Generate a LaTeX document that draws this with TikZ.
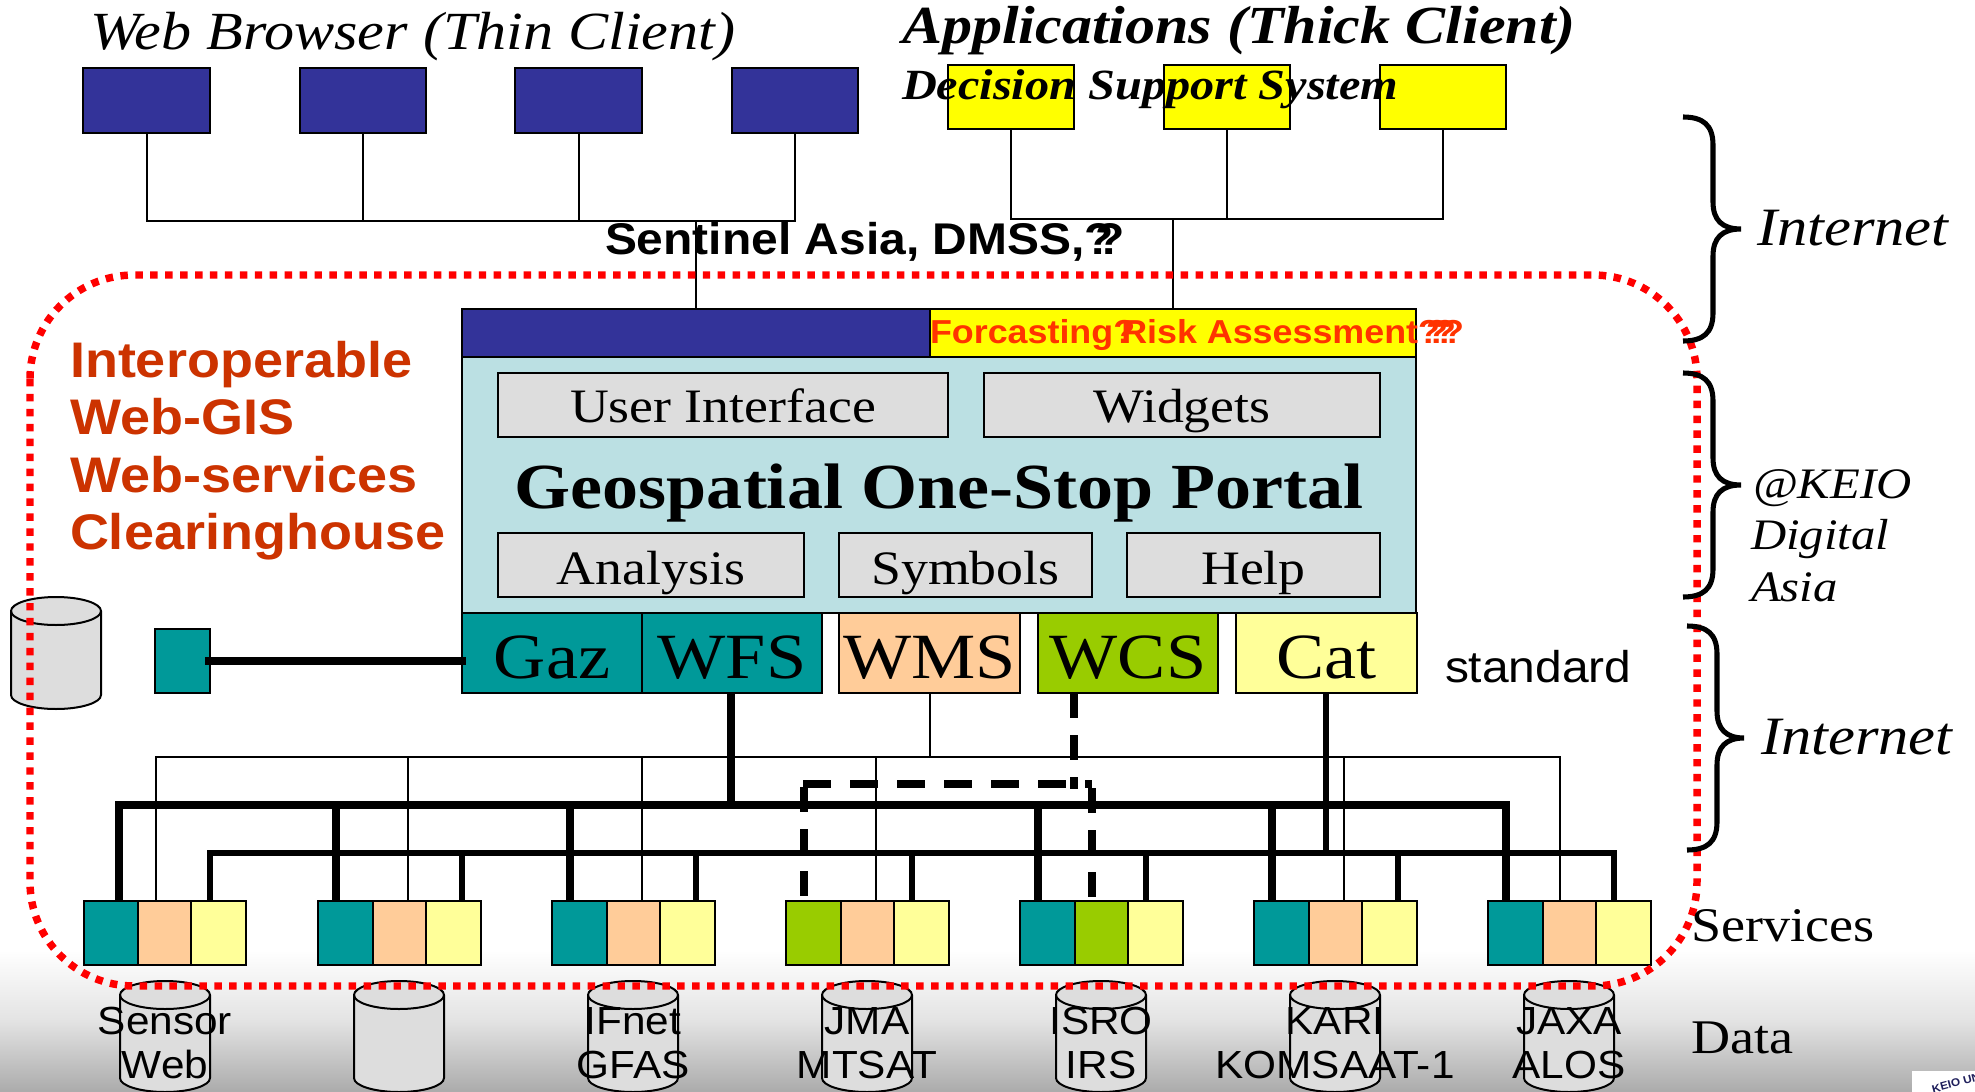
\documentclass[tikz,border=0pt]{standalone}
\usepackage{fontspec}
\usetikzlibrary{calc}
\newfontfamily\ser[FakeStretch=1.12]{Liberation Serif}
\newfontfamily\ari[FakeStretch=1.08]{Liberation Sans}
\newcommand{\pxf}[1]{\fontsize{\the\dimexpr #1pt*3/4\relax}{\the\dimexpr #1pt*3/4\relax}\selectfont}
\newcommand{\ovq}{\kern-.42em}
\definecolor{cblue}{HTML}{333399}
\definecolor{cyell}{HTML}{FFFF00}
\definecolor{cred}{HTML}{FF0000}
\definecolor{cteal}{HTML}{009999}
\definecolor{cpeach}{HTML}{FFCC99}
\definecolor{cpale}{HTML}{FFFF99}
\definecolor{cgreen}{HTML}{99CC00}
\definecolor{cportal}{HTML}{BBE0E3}
\definecolor{cgrey}{HTML}{DDDDDD}
\definecolor{cbrick}{HTML}{CC3300}
\definecolor{cflame}{HTML}{FF3300}
\tikzset{
  boxed/.style={draw=black,line width=1.5pt,inner sep=0pt,outer sep=0pt},
  wire/.style={draw=black,line width=1.5pt},
  busA/.style={draw=black,line width=5.8pt},
  busB/.style={draw=black,line width=4.5pt},
  dropA/.style={draw=black,line width=6.3pt},
  dropB/.style={draw=black,line width=5pt},
  dashV/.style={draw=black,line width=5.6pt,dash pattern=on 18.75pt off 12.75pt},
  dashH/.style={draw=black,line width=5.3pt,dash pattern=on 21pt off 14.25pt},
  brace/.style={draw=black,line width=3.8pt},
  redline/.style={draw=cred,line width=5.6pt,dash pattern=on 5.6pt off 5.6pt,rounded corners=78pt},
  lab/.style={anchor=base west,inner sep=0pt,outer sep=0pt},
  clab/.style={anchor=base,inner sep=0pt,outer sep=0pt},
}
\newcommand{\bx}[7][]{\node[boxed,fill=#7,minimum width={(#5-#3)*0.75pt},minimum height={(#6-#4)*0.75pt},#1] (#2) at ({(#3+#5)/2},{(#4+#6)/2}) {};}
\newcommand{\cyl}[3]{%
  \draw[fill=cgrey,line width=1.5pt] ({#1-45},{#2+14}) -- ({#1-45},{#3-14}) arc[start angle=180,end angle=360,x radius=33.75pt,y radius=10.5pt] -- ({#1+45},{#2+14}) arc[start angle=0,end angle=180,x radius=33.75pt,y radius=10.5pt] -- cycle;
  \draw[line width=1.5pt] ({#1-45},{#2+14}) arc[start angle=180,end angle=360,x radius=33.75pt,y radius=10.5pt];}
\newcommand{\svc}[7]{%
  \bx{#1a}{#2}{901}{#3}{965}{#5}
  \bx{#1b}{#3}{901}{#4}{965}{#6}
  \bx{#1c}{#4}{901}{#4+54.5}{965}{#7}}
\begin{document}
\begin{tikzpicture}[x=0.75pt,y=-0.75pt]
\useasboundingbox (0,0) rectangle (1975,1092);
\fill[white] (0,0) rectangle (1975,1092);
\shade[top color=white,bottom color=black!33,middle color=black!11] (0,950) rectangle (1975,1092);

% clients
\bx{bA}{83}{68}{210}{133}{cblue}
\bx{bB}{300}{68}{426}{133}{cblue}
\bx{bC}{515}{68}{642}{133}{cblue}
\bx{bD}{732}{68}{858}{133}{cblue}
\bx{yA}{948}{65}{1074}{129}{cyell}
\bx{yB}{1164}{65}{1290}{129}{cyell}
\bx{yC}{1380}{65}{1506}{129}{cyell}

% portal
\bx{portal}{462}{357}{1416}{613}{cportal}
\bx{barL}{462}{309}{930}{357}{cblue}
\bx{barR}{930}{309}{1416}{357}{cyell}
\bx{ui}{498}{373}{948}{437}{cgrey}
\bx{wid}{984}{373}{1380}{437}{cgrey}
\bx{ana}{498}{533}{804}{597}{cgrey}
\bx{sym}{839}{533}{1092}{597}{cgrey}
\bx{hlp}{1127}{533}{1380}{597}{cgrey}
\bx{gaz}{462}{613}{642}{693}{cteal}
\bx{wfs}{642}{613}{822}{693}{cteal}
\bx{wms}{839}{613}{1020}{693}{cpeach}
\bx{wcs}{1038}{613}{1218}{693}{cgreen}
\bx{cat}{1236}{613}{1417}{693}{cpale}
\bx{tiny}{155}{629}{210}{693}{cteal}

% client wiring
\coordinate (lb) at (696,221);
\coordinate (rb) at (1173,219);
\draw[wire] (bA.south) |- (lb);
\draw[wire] (bB.south) |- (lb);
\draw[wire] (bC.south) |- (lb);
\draw[wire] (bD.south) |- (lb);
\draw[wire] (lb) -- (barL.north);
\draw[wire] (yA.south) |- (rb);
\draw[wire] (yB.south) |- (rb);
\draw[wire] (yC.south) |- (rb);
\draw[wire] (rb) -- (barR.north);

% service boxes
\svc{sA}{83.5}{138}{191}{cteal}{cpeach}{cpale}
\svc{sB}{318}{372.5}{426}{cteal}{cpeach}{cpale}
\svc{sC}{552}{606.5}{660}{cteal}{cpeach}{cpale}
\svc{sD}{786}{840.5}{894}{cgreen}{cpeach}{cpale}
\svc{sE}{1020}{1074.5}{1128}{cteal}{cgreen}{cpale}
\svc{sF}{1254}{1308.5}{1362}{cteal}{cpeach}{cpale}
\svc{sG}{1488}{1542.5}{1596}{cteal}{cpeach}{cpale}

% thin WMS bus
\coordinate (tb) at (wms.south |- 0,757);
\draw[wire] (wms.south) -- (tb);
\foreach \n/\x in {A/156,B/408,C/642,D/876,F/1344,G/1560}{
  \coordinate (t\n) at (\x,901);
  \draw[wire] (t\n) |- (tb);
}
% WFS bus
\coordinate (ua) at (731,805);
\coordinate (ue) at (115,805);
\coordinate (uf) at (1510,805);
\draw[busA] (ue) -- (uf);
\draw[dropA] (wfs.south -| ua) -- ($(ua)+(0,3)$);
\foreach \n/\x in {A/119,B/336,C/570,E/1038,F/1272,G/1506}{
  \coordinate (u\n) at (\x,901);
  \draw[dropA] (u\n) -- (u\n |- ua);
}
% Cat bus
\coordinate (lbus) at (1326,853);
\coordinate (le) at (207,853);
\coordinate (lf) at (1617,853);
\draw[busB] (le) -- (lf);
\draw[dropB] (cat.south -| lbus) -- ($(lbus)+(0,3)$);
\foreach \n/\x in {A/210,B/462,C/696,D/912,E/1146,F/1398,G/1614}{
  \coordinate (v\n) at (\x,901);
  \draw[dropB] (v\n) -- (v\n |- lbus);
}
% WCS dashed
\coordinate (dt) at (1074,784);
\coordinate (dla) at (803,784);
\coordinate (dra) at (1092,784);
\coordinate (dlb) at (804,787);
\coordinate (dlc) at (804,896);
\coordinate (drb) at (1092,788);
\coordinate (drc) at (1092,897);
\draw[dashV] (wcs.south -| dt) -- (dt |- 0,789);
\draw[dashH] (dla) -- (dra);
\draw[dashV] (dlb) -- (dlc);
\draw[dashV] (drb) -- (drc);

% gaz link
\draw[line width=5.8pt] ($(tiny.east)+(-5,0)$) -- ($(tiny.east -| gaz.west)+(4,0)$);

% databases
\cyl{56}{597}{709}
\foreach \c in {165,399,633,867,1101,1335,1569}{\cyl{\c}{981}{1092}}

% red outline
\draw[redline] (30,275) rectangle (1697,986);

% braces
\draw[brace] (1683,117) .. controls (1703,117) and (1713,125) .. (1713,145) -- (1713,202) .. controls (1713,220) and (1722,229) .. (1741,229) .. controls (1722,229) and (1713,238) .. (1713,256) -- (1713,313) .. controls (1713,333) and (1703,341) .. (1683,341);
\draw[brace] (1683,373) .. controls (1703,373) and (1713,381) .. (1713,401) -- (1713,458) .. controls (1713,476) and (1722,485) .. (1741,485) .. controls (1722,485) and (1713,494) .. (1713,512) -- (1713,569) .. controls (1713,589) and (1703,597) .. (1683,597);
\draw[brace] (1687,626) .. controls (1707,626) and (1717,634) .. (1717,654) -- (1717,711) .. controls (1717,729) and (1726,738) .. (1744,738) .. controls (1726,738) and (1717,747) .. (1717,765) -- (1717,822) .. controls (1717,842) and (1707,850) .. (1687,850);

% logo patch
\fill[white] (1912,1071) rectangle (1975,1092);
\node[lab,rotate=15,font=\ari\bfseries\pxf{11},text=cblue!60!black] (keio) at (1933,1093) {KEIO UN};

% titles
\node[lab,font=\ser\itshape\pxf{53.7}] (tA) at (90,50) {Web Browser (Thin Client)};
\node[lab,font=\ser\bfseries\itshape\pxf{53.6}] (tB) at (902,43) {Applications (Thick Client)};
\node[lab,font=\ser\bfseries\itshape\pxf{43.1}] (tC) at (902,99) {Decision Support System};
\node[lab,font=\ari\bfseries\pxf{44.4}] (tD) at (605,254) {Sentinel Asia, DMSS,?\ovq?};
\node[lab,font=\ari\bfseries\pxf{33.2},text=cflame] (tE) at (930,343) {Forcasting?\ovq Risk Assessment?\ovq?\ovq?\ovq?};
\node[lab,font=\ari\bfseries\pxf{50},text=cbrick] (iA) at (70,377) {Interoperable};
\node[lab,font=\ari\bfseries\pxf{50},text=cbrick] (iB) at (70,434) {Web-GIS};
\node[lab,font=\ari\bfseries\pxf{50},text=cbrick] (iC) at (70,492) {Web-services};
\node[lab,font=\ari\bfseries\pxf{50},text=cbrick] (iD) at (70,549) {Clearinghouse};
\node[clab,font=\ser\pxf{48}] (lUi) at (ui.center |- 0,422) {User Interface};
\node[clab,font=\ser\pxf{48}] (lWi) at (wid.center |- 0,422) {Widgets};
\node[clab,font=\ser\bfseries\pxf{64.3}] (lGeo) at (939,508) {Geospatial One-Stop Portal};
\node[clab,font=\ser\pxf{48}] (lAn) at (ana.center |- 0,584) {Analysis};
\node[clab,font=\ser\pxf{48}] (lSy) at (sym.center |- 0,584) {Symbols};
\node[clab,font=\ser\pxf{48}] (lHe) at (hlp.center |- 0,584) {Help};
\node[clab,font=\ser\pxf{64.5}] (lGa) at (gaz.center |- 0,678) {Gaz};
\node[clab,font=\ser\pxf{64.5}] (lWf) at (wfs.center |- 0,678) {WFS};
\node[clab,font=\ser\pxf{64.5}] (lWm) at (wms.center |- 0,678) {WMS};
\node[clab,font=\ser\pxf{64.5}] (lWc) at (wcs.center |- 0,678) {WCS};
\node[clab,font=\ser\pxf{64.5}] (lCa) at (cat.center |- 0,678) {Cat};
\node[lab,font=\ari\pxf{44.4}] (lSt) at (1445,682) {standard};
\node[lab,font=\ser\itshape\pxf{54}] (rA) at (1757,245) {Internet};
\node[lab,font=\ser\itshape\pxf{43.5}] (rB) at (1753,498) {@KEIO};
\node[lab,font=\ser\itshape\pxf{43.5}] (rC) at (1751,549) {Digital};
\node[lab,font=\ser\itshape\pxf{43.5}] (rD) at (1751,601) {Asia};
\node[lab,font=\ser\itshape\pxf{54}] (rE) at (1761,754) {Internet};
\node[lab,font=\ser\pxf{48.3}] (rF) at (1691,941) {Services};
\node[lab,font=\ser\pxf{48.3}] (rG) at (1691,1053) {Data};
% data labels
\foreach \c/\a/\b/\n in {165/Sensor/Web/A,633/IFnet/GFAS/C,867/JMA/MTSAT/D,1101/ISRO/IRS/E,1335/KARI/KOMSAAT-1/F,1569/JAXA/ALOS/G}{
  \node[clab,font=\ari\pxf{39.2}] (dU\n) at (\c,1034) {\a};
  \node[clab,font=\ari\pxf{39.2}] (dL\n) at (\c,1078) {\b};
}
\end{tikzpicture}
\end{document}
